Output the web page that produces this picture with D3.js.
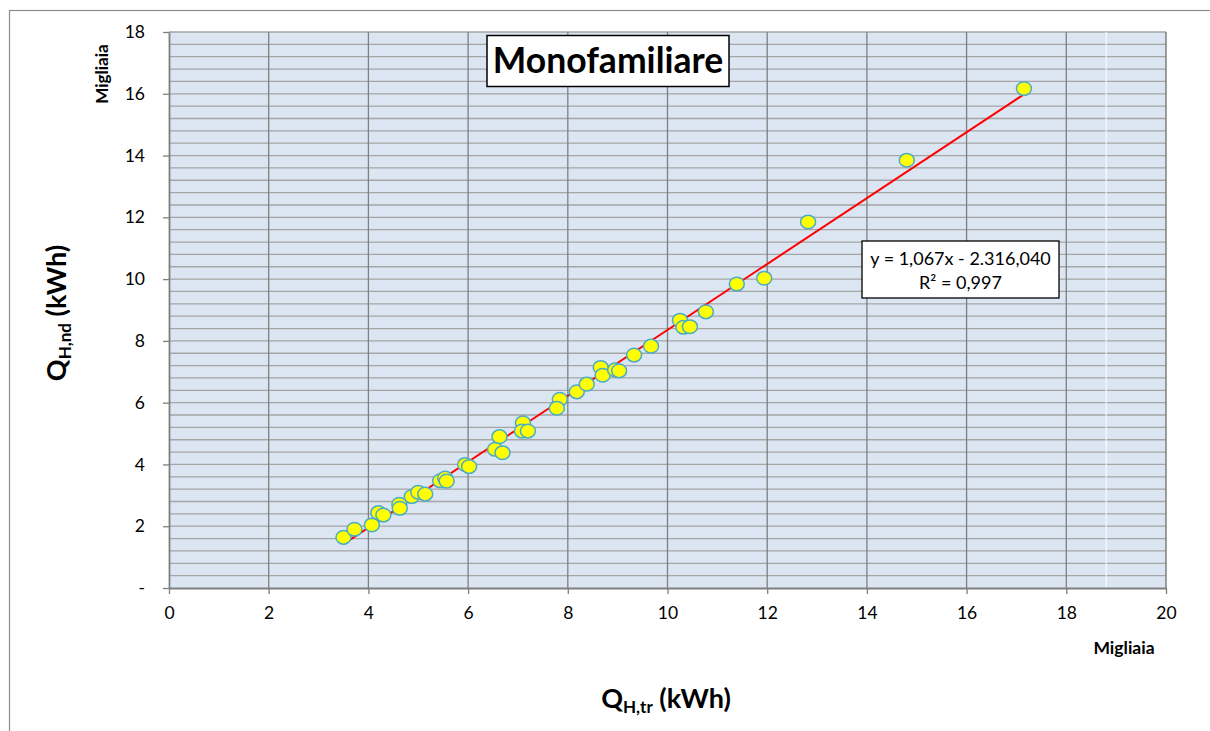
<!DOCTYPE html>
<html>
<head>
<meta charset="utf-8">
<script src="https://cdn.jsdelivr.net/npm/d3@7/dist/d3.min.js"></script>
<style>
  html, body { margin: 0; padding: 0; background: #ffffff; }
  svg { display: block; }
  text { font-family: Lato, "Open Sans", sans-serif; fill: #000; }
</style>
</head>
<body>
<svg id="chart" width="1210" height="731"></svg>
<script>
// ---- data (values in thousands of kWh, "Migliaia") ----
const title = "Monofamiliare";
const xValues = [3.50, 3.72, 4.07, 4.20, 4.30, 4.62, 4.63, 4.87, 5.00, 5.14,
                 5.44, 5.54, 5.57, 5.94, 6.02, 6.54, 6.63, 6.69, 7.10, 7.08,
                 7.20, 7.84, 7.78, 8.18, 8.38, 8.66, 8.70, 8.95, 9.03, 9.33,
                 9.67, 10.25, 10.32, 10.45, 10.77, 11.39, 11.94, 12.82, 14.80, 17.15];
const yValues = [1.64, 1.90, 2.04, 2.44, 2.36, 2.71, 2.58, 2.96, 3.10, 3.04,
                 3.47, 3.56, 3.46, 4.00, 3.93, 4.49, 4.90, 4.38, 5.35, 5.08,
                 5.08, 6.11, 5.82, 6.35, 6.60, 7.14, 6.89, 7.06, 7.03, 7.54,
                 7.83, 8.67, 8.44, 8.46, 8.94, 9.84, 10.03, 11.85, 13.85, 16.17];
const trendSlope = 1.067;
const trendIntercept = -2.31604;   // thousands
const equationLines = ["y = 1,067x - 2.316,040", "R² = 0,997"];
const xTicks = [0, 2, 4, 6, 8, 10, 12, 14, 16, 18, 20];
const yTicks = [0, 2, 4, 6, 8, 10, 12, 14, 16, 18];
const yTickLabels = ["-", "2", "4", "6", "8", "10", "12", "14", "16", "18"];
const unitLabel = "Migliaia";

// ---- layout ----
const svg = d3.select("#chart");
const x = d3.scaleLinear().domain([0, 20]).range([169, 1166]);
const y = d3.scaleLinear().domain([0, 18]).range([588, 32]);

// chart area border
svg.append("rect").attr("x", 9.5).attr("y", 10.5).attr("width", 1240).attr("height", 760)
  .attr("fill", "#fff").attr("stroke", "#8c8c8c").attr("stroke-width", 1.2);

// plot area
svg.append("rect").attr("x", x(0)).attr("y", y(18))
  .attr("width", x(20) - x(0)).attr("height", y(0) - y(18))
  .attr("fill", "#dce6f2");

// horizontal minor gridlines every 0.4
const hLines = d3.range(1, 46).map(i => +(i * 0.4).toFixed(1));
svg.append("g").selectAll("line").data(hLines).join("line")
  .attr("x1", x(0)).attr("x2", x(20))
  .attr("y1", d => y(d)).attr("y2", d => y(d))
  .attr("stroke", "#a5a5a5").attr("stroke-width", 1.3);

// excel rendering artefact: white vertical line
svg.append("line").attr("x1", x(18.8)).attr("x2", x(18.8)).attr("y1", y(18)).attr("y2", y(0))
  .attr("stroke", "#ffffff").attr("stroke-width", 1);

// vertical major gridlines
svg.append("g").selectAll("line").data(xTicks.filter(d => d > 0 && d < 20)).join("line")
  .attr("x1", d => x(d)).attr("x2", d => x(d))
  .attr("y1", y(18)).attr("y2", y(0))
  .attr("stroke", "#7f7f7f").attr("stroke-width", 1.3);

// right border of plot
svg.append("line").attr("x1", x(20)).attr("x2", x(20)).attr("y1", y(18)).attr("y2", y(0))
  .attr("stroke", "#7f7f7f").attr("stroke-width", 1.5);

// axes
const yAxis = d3.axisLeft(y).tickValues(yTicks).tickFormat((d, i) => yTickLabels[i])
  .tickSize(6).tickSizeOuter(0).tickPadding(18);
const gy = svg.append("g").attr("transform", `translate(${x(0)},0)`).call(yAxis);
const xAxis = d3.axisBottom(x).tickValues(xTicks).tickFormat(d3.format("d"))
  .tickSize(6).tickSizeOuter(0).tickPadding(13);
const gx = svg.append("g").attr("transform", `translate(0,${y(0)})`).call(xAxis);
[gx, gy].forEach(g => {
  g.select(".domain").attr("stroke", "#7f7f7f").attr("stroke-width", 1.8);
  g.selectAll(".tick line").attr("stroke", "#7f7f7f").attr("stroke-width", 1.3);
  g.selectAll(".tick text").attr("font-family", "Lato, sans-serif").attr("font-size", 17.5).attr("fill", "#000");
});

// trendline
const xMin = d3.min(xValues), xMax = d3.max(xValues);
svg.append("line")
  .attr("x1", x(xMin)).attr("y1", y(trendSlope * xMin + trendIntercept))
  .attr("x2", x(xMax)).attr("y2", y(trendSlope * xMax + trendIntercept))
  .attr("stroke", "#ff0000").attr("stroke-width", 2);

// points
svg.append("g").selectAll("ellipse").data(xValues.map((v, i) => [v, yValues[i]])).join("ellipse")
  .attr("cx", d => x(d[0])).attr("cy", d => y(d[1]))
  .attr("rx", 7.5).attr("ry", 6.8)
  .attr("fill", "#ffff00").attr("stroke", "#4bacc6").attr("stroke-width", 1.5);

// title box
const tg = svg.append("g");
tg.append("rect").attr("x", 487).attr("y", 35.5).attr("width", 242).attr("height", 51)
  .attr("fill", "#fff").attr("stroke", "#000").attr("stroke-width", 1.5);
tg.append("text").attr("x", 608).attr("y", 73).attr("text-anchor", "middle")
  .attr("font-weight", "bold").attr("font-size", 35.5).text(title);

// equation box
const eg = svg.append("g");
eg.append("rect").attr("x", 862).attr("y", 241).attr("width", 197).attr("height", 57)
  .attr("fill", "#fff").attr("stroke", "#000").attr("stroke-width", 1.3);
eg.selectAll("text").data(equationLines).join("text")
  .attr("x", 960.5).attr("y", (d, i) => 264.5 + i * 24.5).attr("text-anchor", "middle")
  .attr("font-size", 18).text(d => d);

// unit labels
svg.append("text").attr("transform", "translate(108,74) rotate(-90)")
  .attr("text-anchor", "middle").attr("font-weight", "bold").attr("font-size", 17).text(unitLabel);
svg.append("text").attr("x", 1124).attr("y", 654)
  .attr("text-anchor", "middle").attr("font-weight", "bold").attr("font-size", 17.5).text(unitLabel);

// axis titles
const yt = svg.append("text").attr("transform", "translate(66,313) rotate(-90)")
  .attr("text-anchor", "middle").attr("font-weight", "bold").attr("font-size", 27);
yt.append("tspan").text("Q");
yt.append("tspan").attr("font-size", 17).attr("dy", 5).text("H,nd");
yt.append("tspan").attr("dy", -5).text(" (kWh)");

const xt = svg.append("text").attr("x", 666).attr("y", 708)
  .attr("text-anchor", "middle").attr("font-weight", "bold").attr("font-size", 27);
xt.append("tspan").text("Q");
xt.append("tspan").attr("font-size", 17).attr("dy", 5).text("H,tr");
xt.append("tspan").attr("dy", -5).text(" (kWh)");
</script>
</body>
</html>
